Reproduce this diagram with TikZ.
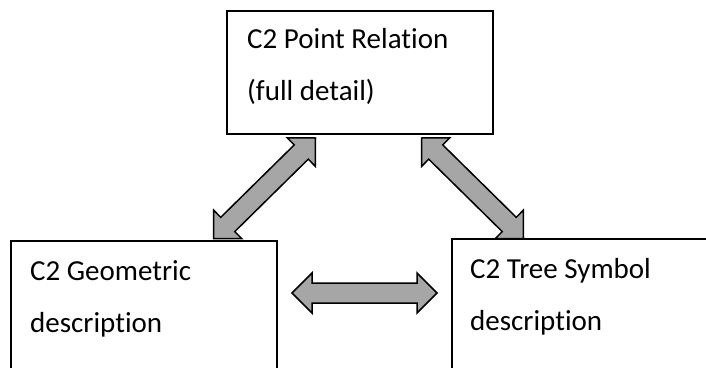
\documentclass[tikz,border=0pt]{standalone}
\usepackage{fontspec}
\setmainfont{Carlito}[Ligatures={NoCommon}]
\usetikzlibrary{calc}
\definecolor{arrowgray}{HTML}{A6A6A6}
\newcommand\dblblockarrow[2]{%
  \filldraw[arrowstyle]
    (#1)
    -- ($(#1)!20pt!(#2)!20pt!90:(#2)$)
    -- ($(#1)!20pt!(#2)!10pt!90:(#2)$)
    -- ($(#2)!20pt!(#1)!10pt!-90:(#1)$)
    -- ($(#2)!20pt!(#1)!20pt!-90:(#1)$)
    -- (#2)
    -- ($(#2)!20pt!(#1)!20pt!90:(#1)$)
    -- ($(#2)!20pt!(#1)!10pt!90:(#1)$)
    -- ($(#1)!20pt!(#2)!10pt!-90:(#2)$)
    -- ($(#1)!20pt!(#2)!20pt!-90:(#2)$)
    -- cycle;}
\begin{document}
\begin{tikzpicture}[x=1pt,y=-1pt,
  box/.style={draw=black,line width=1.6pt,fill=white,anchor=north west,inner sep=0pt,outer sep=0pt},
  txt/.style={anchor=base west,align=left,inner sep=0pt,font=\fontsize{29}{52}\selectfont},
  arrowstyle/.style={fill=arrowgray,draw=black,line width=1.5pt,line join=miter}]
\useasboundingbox (0,0) rectangle (706,367);
\clip (0,0) rectangle (706,367);
\fill[white] (0,0) rectangle (706,367);
% boxes
\node[box,minimum width=266pt,minimum height=123pt] (T) at (227,11) {};
\node[box,minimum width=266pt,minimum height=200pt] (L) at (11,241) {};
\node[box,minimum width=300pt,minimum height=200pt] (R) at (452,239) {};
% texts (anchored at the baseline of the last line)
\node[txt] (Tt) at (247,100) {C2 Point Relation\\(full detail)};
\node[txt] (Lt) at (30,332) {C2 Geometric\\description};
\node[txt] (Rt) at (470,330) {C2 Tree Symbol\\description};
% arrow ends
\coordinate (la1) at (315.5,138);
\coordinate (la2) at (213.5,238.5);
\coordinate (ra1) at (421.5,138);
\coordinate (ra2) at (523.5,238.5);
\coordinate (ha1) at (292,293);
\coordinate (ha2) at (437,293);
% arrows
\dblblockarrow{la1}{la2}
\dblblockarrow{ra1}{ra2}
\dblblockarrow{ha1}{ha2}
\end{tikzpicture}
\end{document}
